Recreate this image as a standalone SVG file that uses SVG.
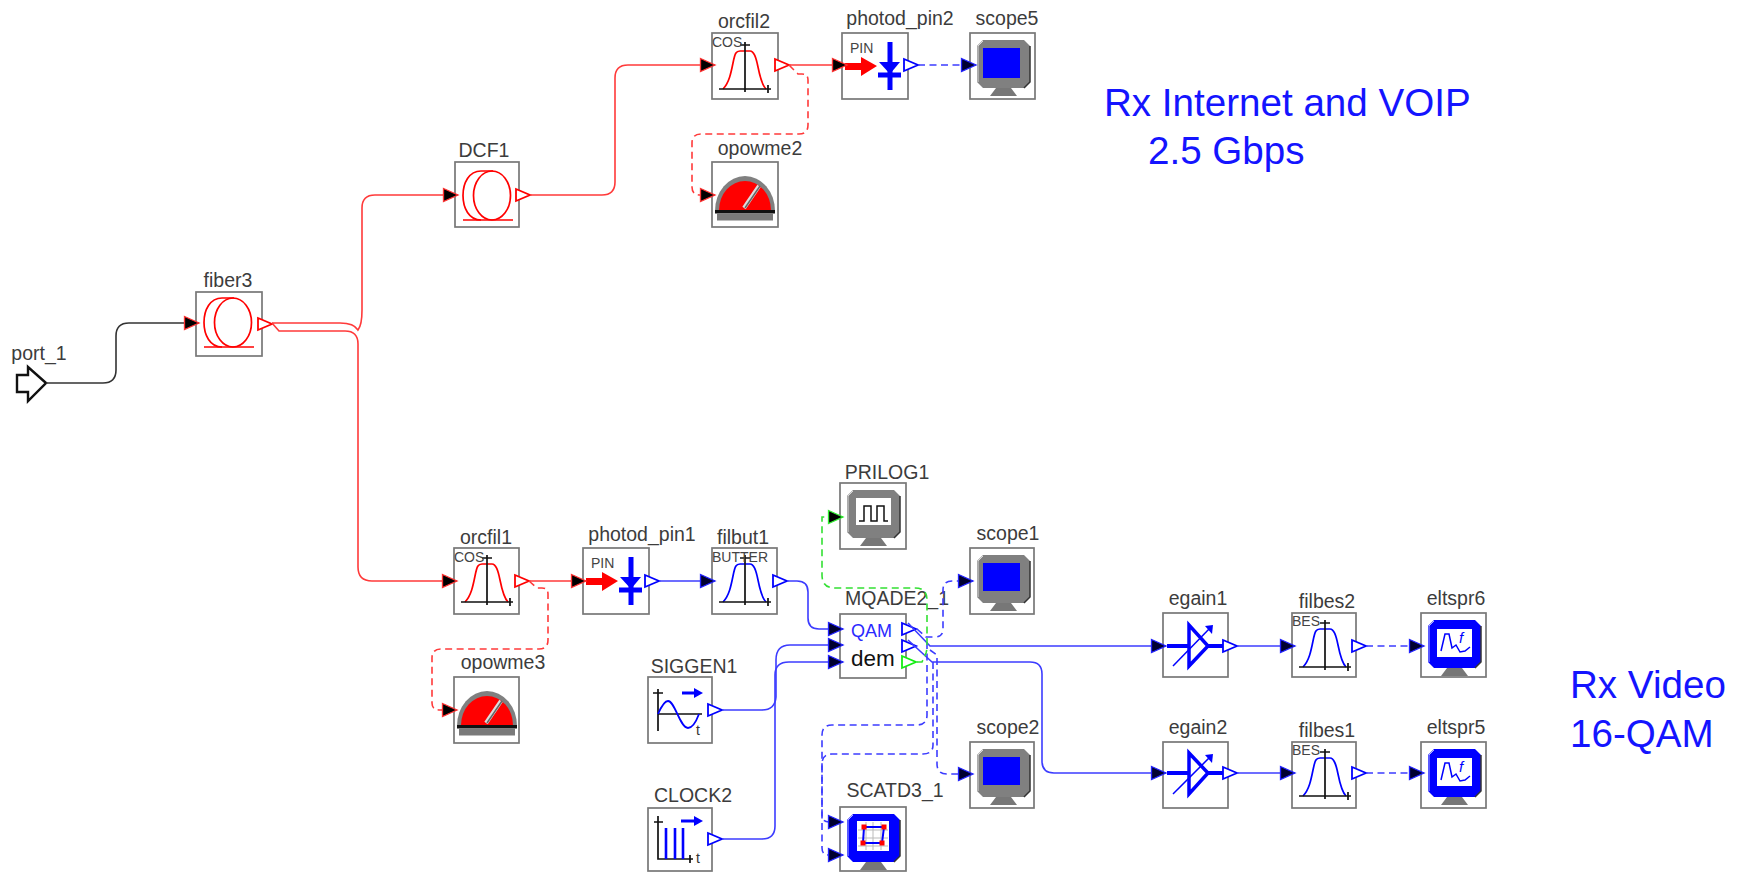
<svg xmlns="http://www.w3.org/2000/svg" width="1738" height="872" viewBox="0 0 1738 872">
<style>
text{font-family:"Liberation Sans",Arial,sans-serif}
.box{fill:#fff;stroke:#777;stroke-width:1.7}
.lbl{font-size:19.5px;fill:#3c3c3c;text-anchor:middle}
.tag{font-size:14px;fill:#444}
.big{font-size:38.600px;fill:#1414ff}
.r{color:#f00}.b{color:#00f}.g{color:#1e1}
.red,.blue,.green,.blk{fill:none;stroke-width:1.6}
.red{stroke:#ff3a3a}.blue{stroke:#3c3cff}.green{stroke:#33e033}.blk{stroke:#333}
.dash{stroke-dasharray:7 4.5}
.ic{fill:none;stroke:currentColor;stroke-width:1.7}
.ax{fill:none;stroke:#111;stroke-width:1.7}
</style>
<defs>
<marker id="inr" markerUnits="userSpaceOnUse" markerWidth="18" markerHeight="18" refX="16" refY="9" orient="auto"><path d="M1.500,2.500 L16,9 L1.500,15.500 Z" fill="#000" stroke="#f33" stroke-width="1.300"/></marker>
<marker id="inb" markerUnits="userSpaceOnUse" markerWidth="18" markerHeight="18" refX="16" refY="9" orient="auto"><path d="M1.500,2.500 L16,9 L1.500,15.500 Z" fill="#000030" stroke="#22f" stroke-width="1.300"/></marker>
<marker id="ing" markerUnits="userSpaceOnUse" markerWidth="18" markerHeight="18" refX="16" refY="9" orient="auto"><path d="M1.500,2.500 L16,9 L1.500,15.500 Z" fill="#000" stroke="#3e3" stroke-width="1.300"/></marker>
<marker id="ink" markerUnits="userSpaceOnUse" markerWidth="18" markerHeight="18" refX="16" refY="9" orient="auto"><path d="M1.500,2.500 L16,9 L1.500,15.500 Z" fill="#000" stroke="#f33" stroke-width="1.300"/></marker>
<path id="out" d="M0,-6 L14,0 L0,6 Z" fill="#fff" stroke="currentColor" stroke-width="1.8"/>
<g id="fib" class="ic"><ellipse cx="37" cy="30.5" rx="18.5" ry="24.5"/><path d="M26,55 C14,55 8,43 8,30.5 C8,18 14,6 26,6 H38"/><path d="M8,55 H58"/></g>
<g id="fil"><path class="ic" d="M11,54 C17,48 19,38 21,28 C23,18 24,16 28,16 H38 C42,16 44,22 46,32 C48,42 50,50 54,54"/><path class="ax" d="M7,54 H59 M56,50 V58 M33,7 V57 M28,10 H38"/></g>
<g id="pin"><path d="M3,30 H19 V24 L35,33 L19,43 V37 H3 Z" fill="#f00"/><path d="M48,9 V57 M36,42 H59" stroke="#00f" stroke-width="5" fill="none"/><path d="M37,29 H58 L48,41 Z" fill="#00f"/></g>
<g id="pow"><path d="M3,49 A30,35 0 0 1 63,49 Z" fill="#808080"/><path d="M7,48 A26,29 0 0 1 59,48 Z" fill="#f00"/><rect x="3" y="48" width="60" height="3.5" fill="#111"/><rect x="5" y="51.500" width="56" height="7" fill="#7a7a7a"/><path d="M32,46 L47,24" stroke="#ddd" stroke-width="4"/><path d="M33,46 L48,24" stroke="#666" stroke-width="1.500"/></g>
<g id="mon"><path d="M13,7 H54 L60,13 V49 L54,55 H13 L7,49 V13 Z" fill="currentColor"/><path d="M13,8 L8,13 V49" fill="none" stroke="#fff" stroke-width="1" opacity=".7"/><path d="M60,13 V49 L54,55" fill="none" stroke="#333" stroke-width="1.500"/><path d="M26,55 H41 L47,63 H20 Z" fill="#777"/></g>
</defs>

<g id="port_1"><path d="M46,383 L28,367 V375 H17 V392 H28 V401 Z" fill="#fff" stroke="#111" stroke-width="2.400"/><text class="lbl" x="39" y="360">port_1</text></g>
<g id="fiber3"><rect class="box" x="196" y="292" width="66" height="64"/><use href="#fib" x="196" y="292" class="r"/><use href="#out" x="258" y="324" class="r"/><text class="lbl" x="228" y="287">fiber3</text></g>
<g id="DCF1"><rect class="box" x="455" y="162" width="64" height="65"/><use href="#fib" x="455" y="165" class="r"/><use href="#out" x="516" y="195" class="r"/><text class="lbl" x="484" y="157">DCF1</text></g>
<g id="orcfil2"><rect class="box" x="712" y="33" width="66" height="66"/><use href="#fil" x="712" y="35" class="r"/><text class="tag" x="712" y="47">COS</text><use href="#out" x="775" y="65" class="r"/><text class="lbl" x="744" y="28">orcfil2</text></g>
<g id="photod_pin2"><rect class="box" x="842" y="33" width="66" height="66"/><use href="#pin" x="842" y="33"/><text class="tag" x="850" y="53">PIN</text><use href="#out" x="904" y="65" class="b"/><text class="lbl" x="900" y="25">photod_pin2</text></g>
<g id="scope5"><rect class="box" x="970" y="33" width="65" height="66"/><use href="#mon" x="970" y="33" style="color:#808080"/><rect x="983" y="48" width="37" height="30" fill="#00f"/><text class="lbl" x="1007" y="25">scope5</text></g>
<g id="opowme2"><rect class="box" x="712" y="162" width="66" height="65"/><use href="#pow" x="712" y="162"/><text class="lbl" x="760" y="155">opowme2</text></g>

<g id="orcfil1"><rect class="box" x="454" y="548" width="65" height="66"/><use href="#fil" x="454" y="548" class="r"/><text class="tag" x="454" y="562">COS</text><use href="#out" x="515" y="581" class="r"/><text class="lbl" x="486" y="544">orcfil1</text></g>
<g id="photod_pin1"><rect class="box" x="583" y="548" width="66" height="66"/><use href="#pin" x="583" y="548"/><text class="tag" x="591" y="568">PIN</text><use href="#out" x="645" y="581" class="b"/><text class="lbl" x="642" y="541">photod_pin1</text></g>
<g id="filbut1"><rect class="box" x="712" y="548" width="65" height="66"/><use href="#fil" x="712" y="548" class="b"/><text class="tag" x="712" y="562">BUTTER</text><use href="#out" x="773" y="581" class="b"/><text class="lbl" x="743" y="544">filbut1</text></g>
<g id="opowme3"><rect class="box" x="454" y="677" width="65" height="66"/><use href="#pow" x="454" y="677"/><text class="lbl" x="503" y="669">opowme3</text></g>
<g id="SIGGEN1"><rect class="box" x="648" y="677" width="64" height="66"/><path class="ax" d="M658,689 V731 M658,714 H702 M653,693 H663"/><path d="M658,714 C662,705 665,701 668,701 C675,701 680,728 688,728 C693,728 696,722 699,714" fill="none" stroke="#00f" stroke-width="1.800"/><path d="M682,693 H695" stroke="#00f" stroke-width="3"/><path d="M694,688 L703,693 L694,698 Z" fill="#00f"/><text x="696" y="735" font-size="14" fill="#333">t</text><use href="#out" x="708" y="710" class="b"/><text class="lbl" x="694" y="673">SIGGEN1</text></g>
<g id="CLOCK2"><rect class="box" x="648" y="808" width="64" height="63"/><path class="ax" d="M658,816 V859 H693 M654,822 H663 M690,855 V863"/><path d="M666,828 V859 M675,828 V859 M683,828 V859" stroke="#00f" stroke-width="2.600"/><path d="M681,821 H695" stroke="#00f" stroke-width="3"/><path d="M694,816 L703,821 L694,826 Z" fill="#00f"/><text x="696" y="863" font-size="14" fill="#333">t</text><use href="#out" x="708" y="839" class="b"/><text class="lbl" x="693" y="802">CLOCK2</text></g>
<g id="PRILOG1"><rect class="box" x="840" y="483" width="66" height="66"/><use href="#mon" x="840" y="483" style="color:#808080"/><rect x="856" y="498" width="35" height="27" fill="#fff"/><path d="M859,521 H864 V506 H871 V521 H877 V506 H884 V521 H888" fill="none" stroke="#111" stroke-width="1.500"/><text class="lbl" x="887" y="479">PRILOG1</text></g>
<g id="scope1"><rect class="box" x="970" y="548" width="64" height="66"/><use href="#mon" x="970" y="548" style="color:#808080"/><rect x="983" y="563" width="37" height="28" fill="#00f"/><text class="lbl" x="1008" y="540">scope1</text></g>
<g id="MQADE2_1"><rect class="box" x="840" y="614" width="66" height="64"/><text x="851" y="637" font-size="18" fill="#2a2aff">QAM</text><text x="851" y="666" font-size="22.500" fill="#111">dem</text><use href="#out" x="902" y="629" class="b"/><use href="#out" x="902" y="646" class="b"/><use href="#out" x="902" y="662" class="g"/><text class="lbl" x="897" y="605">MQADE2_1</text></g>
<g id="scope2"><rect class="box" x="970" y="742" width="64" height="66"/><use href="#mon" x="970" y="742" style="color:#808080"/><rect x="983" y="757" width="37" height="28" fill="#00f"/><text class="lbl" x="1008" y="734">scope2</text></g>
<g id="SCATD3_1"><rect class="box" x="840" y="807" width="66" height="64"/><use href="#mon" x="840" y="807" style="color:#00f"/><rect x="857" y="821" width="32" height="30" fill="#fff"/><path d="M858,830 H888 M858,838 H888 M858,846 H888 M866,822 V850 M873,822 V850 M881,822 V850" stroke="#bbb" stroke-width="1"/><path d="M864,827 H884 L882,843 H863 Z" fill="none" stroke="#00f" stroke-width="2"/><path d="M864,827 h.01 M884,827 h.01 M863,843 h.01 M882,843 h.01" stroke="#f00" stroke-width="5" stroke-linecap="square"/><text class="lbl" x="895" y="797">SCATD3_1</text></g>

<g id="egain1"><rect class="box" x="1163" y="613" width="65" height="64"/><path d="M1167,646 H1189 M1208,646 H1224" stroke="#00f" stroke-width="4"/><path d="M1189,625 V666 L1208,646 Z" fill="#fff" stroke="#00f" stroke-width="3.500"/><path d="M1173,666 L1211,627" stroke="#00f" stroke-width="1.500"/><path d="M1205,626 L1213,625 L1212,634 Z" fill="#00f"/><use href="#out" x="1223" y="646" class="b"/><text class="lbl" x="1198" y="605">egain1</text></g>
<g id="filbes2"><rect class="box" x="1292" y="613" width="64" height="64"/><use href="#fil" x="1292" y="613" class="b"/><text class="tag" x="1292" y="626">BES</text><use href="#out" x="1352" y="646" class="b"/><text class="lbl" x="1327" y="608">filbes2</text></g>
<g id="eltspr6"><rect class="box" x="1421" y="613" width="65" height="64"/><use href="#mon" x="1421" y="613" style="color:#00f"/><rect x="1437" y="629" width="35" height="28" fill="#fff"/><path d="M1441,651 L1445,634 H1449 L1452,648 L1456,645 L1460,652 L1465,651 L1470,647" fill="none" stroke="#00f" stroke-width="1.500"/><text x="1459" y="643" font-size="15" fill="#00f" font-style="italic">f</text><text class="lbl" x="1456" y="605">eltspr6</text></g>
<g id="egain2"><rect class="box" x="1163" y="742" width="65" height="66"/><path d="M1167,773 H1189 M1208,773 H1224" stroke="#00f" stroke-width="4"/><path d="M1189,753 V794 L1208,773 Z" fill="#fff" stroke="#00f" stroke-width="3.500"/><path d="M1173,794 L1211,756" stroke="#00f" stroke-width="1.500"/><path d="M1205,755 L1213,754 L1212,763 Z" fill="#00f"/><use href="#out" x="1223" y="773" class="b"/><text class="lbl" x="1198" y="734">egain2</text></g>
<g id="filbes1"><rect class="box" x="1292" y="742" width="64" height="66"/><use href="#fil" x="1292" y="742" class="b"/><text class="tag" x="1292" y="755">BES</text><use href="#out" x="1352" y="773" class="b"/><text class="lbl" x="1327" y="737">filbes1</text></g>
<g id="eltspr5"><rect class="box" x="1421" y="742" width="65" height="66"/><use href="#mon" x="1421" y="742" style="color:#00f"/><rect x="1437" y="758" width="35" height="28" fill="#fff"/><path d="M1441,780 L1445,763 H1449 L1452,777 L1456,774 L1460,781 L1465,780 L1470,776" fill="none" stroke="#00f" stroke-width="1.500"/><text x="1459" y="772" font-size="15" fill="#00f" font-style="italic">f</text><text class="lbl" x="1456" y="734">eltspr5</text></g>

<g id="connectors">
<path class="blk" marker-end="url(#ink)" d="M46,383 H103 Q116,383 116,370 V336 Q116,323 129,323 H199"/>
<path class="red" marker-end="url(#inr)" d="M272,323 H340 Q354,323 358,330 Q362,325 362,310 V208 Q362,195 375,195 H458"/>
<path class="red" marker-end="url(#inr)" d="M272,323 L279,331 H345 Q358,331 358,344 V567 Q358,581 372,581 H457"/>
<path class="red" marker-end="url(#inr)" d="M530,195 H602 Q615,195 615,182 V78 Q615,65 628,65 H715"/>
<path class="red" marker-end="url(#inr)" d="M789,65 H847"/>
<path class="red dash" marker-end="url(#inr)" d="M789,65 L798,74 H802 Q808,74 808,80 V125 Q808,134 799,134 H701 Q692,134 692,143 V187 Q692,195 700,195 H715"/>
<path class="blue dash" marker-end="url(#inb)" d="M918,65 H976"/>
<path class="red" marker-end="url(#inr)" d="M529,581 H586"/>
<path class="red dash" marker-end="url(#inr)" d="M529,581 L537,588 H542 Q548,588 548,594 V640 Q548,649 539,649 H441 Q432,649 432,658 V703 Q432,710 440,710 H457"/>
<path class="blue" marker-end="url(#inb)" d="M659,581 H715"/>
<path class="blue" marker-end="url(#inb)" d="M787,581 H797 Q808,581 808,592 V618 Q808,629 819,629 H843"/>
<path class="blue" marker-end="url(#inb)" d="M722,710 H762 Q775,710 776,697 V660 Q776,645 790,645 H843"/>
<path class="blue" marker-end="url(#inb)" d="M722,839 H762 Q775,839 775,826 V675 Q775,662 789,662 H843"/>
<path class="blue" marker-end="url(#inb)" d="M908,623 L930,646 H1166"/>
<path class="blue" marker-end="url(#inb)" d="M908,640 L932,662 H1030 Q1042,662 1042,674 V761 Q1042,773 1054,773 H1166"/>
<path class="blue dash" marker-end="url(#inb)" d="M917,629 L926,637 H935 Q943,637 943,629 V590 Q943,581 952,581 H973"/>
<path class="blue dash" marker-end="url(#inb)" d="M927,642 V715 Q927,725 917,725 H832 Q822,725 822,735 V815 Q822,822 829,822 H843"/>
<path class="blue dash" marker-end="url(#inb)" d="M933,662 V745 Q933,754 923,754 H832 Q822,754 822,764 V848 Q822,855 829,855 H843"/>
<path class="blue dash" marker-end="url(#inb)" d="M930,650 L937,655 V764 Q937,774 947,774 H973"/>
<path class="green dash" marker-end="url(#ing)" d="M917,662 H922 L926,653 Q927,650 927,645 V600 Q927,588 915,588 H835 Q822,588 822,575 V517 H843"/>
<path class="blue" marker-end="url(#inb)" d="M1237,646 H1295"/>
<path class="blue dash" marker-end="url(#inb)" d="M1366,646 H1424"/>
<path class="blue" marker-end="url(#inb)" d="M1237,773 H1295"/>
<path class="blue dash" marker-end="url(#inb)" d="M1366,773 H1424"/>
</g>

<text class="big" x="1104" y="116">Rx Internet and VOIP</text>
<text class="big" x="1148" y="164">2.5 Gbps</text>
<text class="big" x="1570" y="698">Rx Video</text>
<text class="big" x="1570" y="747">16-QAM</text>
</svg>
